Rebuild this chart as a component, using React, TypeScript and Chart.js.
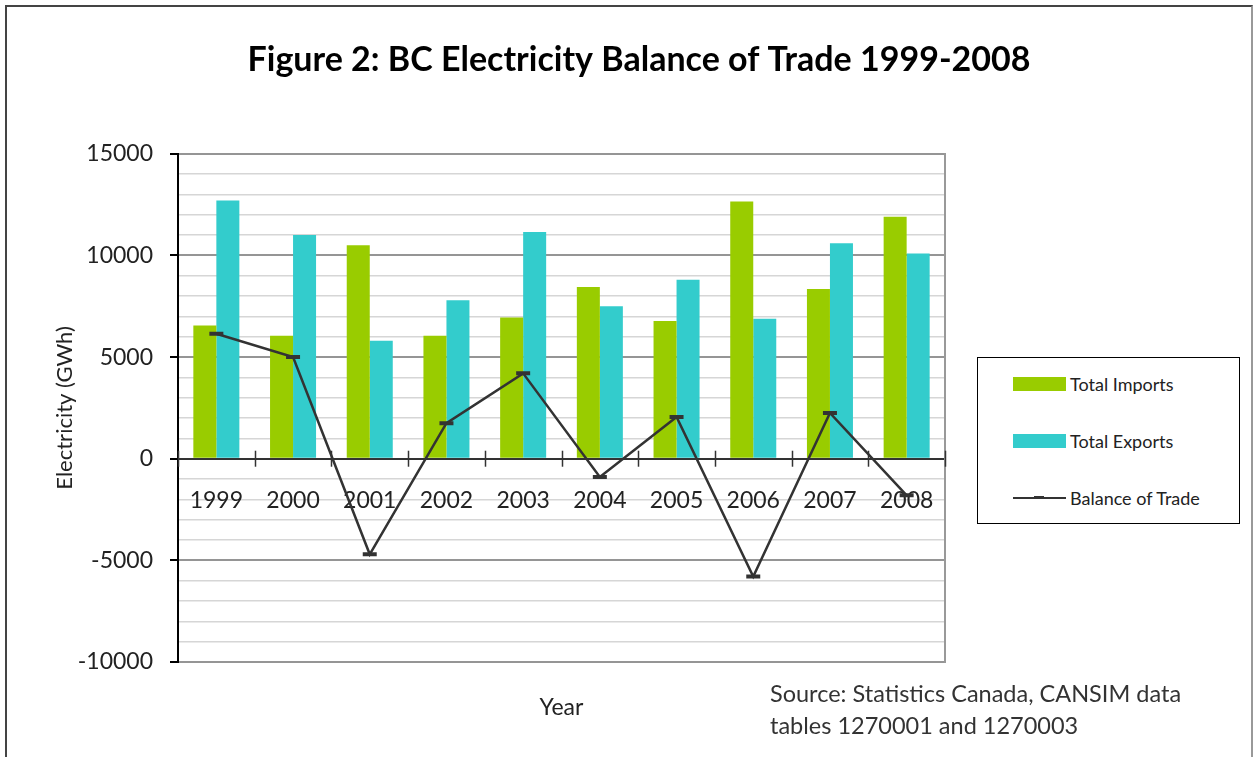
import React, { useEffect, useRef } from "react";
import { Chart, registerables } from "chart.js";

Chart.register(...registerables);

const YEARS = ["1999", "2000", "2001", "2002", "2003", "2004", "2005", "2006", "2007", "2008"];
const TOTAL_IMPORTS = [6550, 6050, 10500, 6050, 6950, 8450, 6780, 12650, 8350, 11900];
const TOTAL_EXPORTS = [12700, 11000, 5800, 7800, 11150, 7500, 8800, 6880, 10600, 10100];
const BALANCE_OF_TRADE = [6150, 5000, -4700, 1750, 4200, -900, 2050, -5800, 2250, -1800];
const Y_MIN = -10000;
const Y_MAX = 15000;
const Y_STEP = 1000;
const Y_LABEL_STEP = 5000;

const GREEN = "#99CC00";
const CYAN = "#33CCCC";
const LINE = "#333333";
const FONT = "Lato, 'Open Sans', sans-serif";

const crossTicks = {
  id: "crossTicks",
  beforeDatasetsDraw(chart: any) {
    const x = chart.scales.x;
    const y = chart.scales.y;
    const ctx = chart.ctx;
    const y0 = y.getPixelForValue(0);
    ctx.save();
    ctx.strokeStyle = "#333";
    ctx.lineWidth = 1.5;
    for (let i = 0; i <= YEARS.length; i++) {
      const px = Math.round(x.getPixelForValue(i - 0.5)) + 0.5;
      ctx.beginPath();
      ctx.moveTo(px, y0 - 8);
      ctx.lineTo(px, y0 + 8);
      ctx.stroke();
    }
    ctx.restore();
  },
};

export default function App() {
  const ref = useRef<HTMLCanvasElement | null>(null);

  useEffect(() => {
    let chart: Chart | null = null;
    let cancelled = false;
    const make = () => {
      if (cancelled || !ref.current) return;
      chart = new Chart(ref.current, {
        type: "bar",
        data: {
          labels: YEARS,
          datasets: [
            {
              type: "line",
              label: "Balance of Trade",
              data: BALANCE_OF_TRADE,
              borderColor: LINE,
              borderWidth: 2.5,
              pointStyle: "line",
              pointRadius: 7,
              pointBorderWidth: 4,
              pointBorderColor: LINE,
              pointBackgroundColor: LINE,
              fill: false,
              tension: 0,
              order: 0,
            } as any,
            {
              label: "Total Imports",
              data: TOTAL_IMPORTS,
              backgroundColor: GREEN,
              borderWidth: 0,
              categoryPercentage: 0.6,
              barPercentage: 1.0,
              order: 1,
            },
            {
              label: "Total Exports",
              data: TOTAL_EXPORTS,
              backgroundColor: CYAN,
              borderWidth: 0,
              categoryPercentage: 0.6,
              barPercentage: 1.0,
              order: 1,
            },
          ],
        },
        options: {
          responsive: false,
          animation: false,
          devicePixelRatio: 1,
          layout: { padding: { left: 24, right: 0, top: 0, bottom: 95 } },
          plugins: {
            legend: { display: false },
            tooltip: { enabled: false },
            title: {
              display: true,
              text: "Figure 2: BC Electricity Balance of Trade 1999-2008",
              color: "#000",
              font: { family: FONT, size: 34, weight: "bold" },
              padding: { top: 40, bottom: 73 },
            },
          },
          scales: {
            x: {
              type: "category",
              position: { y: 0 } as any,
              offset: true,
              grid: {
                offset: true,
                drawOnChartArea: false,
                drawTicks: true,
                tickLength: 8,
                tickColor: "transparent",
              },
              border: { display: true, color: "#333", width: 1.5 },
              ticks: {
                color: "#222",
                font: { family: FONT, size: 23 },
                padding: 20,
                maxRotation: 0,
                autoSkip: false,
              },
              title: {
                display: true,
                text: "Year",
                color: "#222",
                font: { family: FONT, size: 23 },
                padding: 0,
              },
              afterFit: (s: any) => {
                s.height = 263;
              },
            },
            y: {
              min: Y_MIN,
              max: Y_MAX,
              position: "left",
              ticks: {
                stepSize: Y_STEP,
                autoSkip: false,
                color: "#222",
                font: { family: FONT, size: 23 },
                padding: 17,
                callback: (v: any) => (Number(v) % Y_LABEL_STEP === 0 ? String(v) : ""),
              },
              grid: {
                color: (c: any) =>
                  c.tick && c.tick.value === 0
                    ? "#333"
                    : c.tick && c.tick.value % Y_LABEL_STEP === 0
                    ? "#959595"
                    : "#d6d6d6",
                lineWidth: (c: any) =>
                  c.tick && c.tick.value % Y_LABEL_STEP === 0 ? 2 : 1.5,
                tickColor: (c: any) =>
                  c.tick && c.tick.value % Y_LABEL_STEP === 0 ? "#000" : "transparent",
                tickLength: 8,
              },
              border: { display: true, color: "#000", width: 2 },
              title: {
                display: true,
                text: "Electricity (GWh)",
                color: "#222",
                font: { family: FONT, size: 22 },
                padding: { top: 28, bottom: 0 },
              },
              afterFit: (s: any) => {
                s.width = 154;
              },
            },
            y2: {
              position: "right",
              min: Y_MIN,
              max: Y_MAX,
              ticks: { display: false },
              grid: { drawOnChartArea: false, drawTicks: false },
              border: { display: true, color: "#999", width: 2 },
              afterFit: (s: any) => {
                s.width = 309;
              },
            },
          },
        },
        plugins: [crossTicks],
      });
    };
    const fonts = (document as any).fonts;
    if (fonts && fonts.load) {
      Promise.all([
        fonts.load("23px Lato"),
        fonts.load("bold 34px Lato"),
      ]).then(make, make);
    } else {
      make();
    }
    return () => {
      cancelled = true;
      if (chart) chart.destroy();
    };
  }, []);

  const legendText: React.CSSProperties = {
    position: "absolute",
    left: 92,
    fontFamily: FONT,
    fontSize: 18,
    color: "#222",
    lineHeight: "22px",
    whiteSpace: "nowrap",
  };

  return (
    <div
      style={{
        position: "absolute",
        left: 0,
        top: 0,
        width: 1254,
        height: 757,
        overflow: "hidden",
        background: "#fff",
      }}
    >
      <div
        style={{
          position: "absolute",
          left: 5,
          top: 5,
          width: 1244,
          height: 900,
          borderLeft: "2px solid #444",
          borderTop: "2px solid #444",
          borderRight: "2px solid #999",
        }}
      />
      <canvas ref={ref} width={1254} height={757} style={{ position: "absolute", left: 0, top: 0 }} />
      <div
        style={{
          position: "absolute",
          left: 977,
          top: 357,
          width: 261,
          height: 165,
          border: "1.5px solid #000",
          background: "#fff",
        }}
      >
        <div style={{ position: "absolute", left: 35, top: 19, width: 53, height: 14, background: GREEN }} />
        <div style={{ ...legendText, top: 15 }}>Total Imports</div>
        <div style={{ position: "absolute", left: 35, top: 76, width: 53, height: 14, background: CYAN }} />
        <div style={{ ...legendText, top: 72 }}>Total Exports</div>
        <div style={{ position: "absolute", left: 35, top: 139, width: 53, height: 2, background: LINE }} />
        <div style={{ position: "absolute", left: 56, top: 138, width: 10, height: 3, background: LINE }} />
        <div style={{ ...legendText, top: 129 }}>Balance of Trade</div>
      </div>
      <div
        style={{
          position: "absolute",
          left: 770,
          top: 677,
          fontFamily: FONT,
          fontSize: 23.5,
          lineHeight: "32px",
          color: "#333",
          whiteSpace: "nowrap",
        }}
      >
        Source: Statistics Canada, CANSIM data
        <br />
        tables 1270001 and 1270003
      </div>
    </div>
  );
}
